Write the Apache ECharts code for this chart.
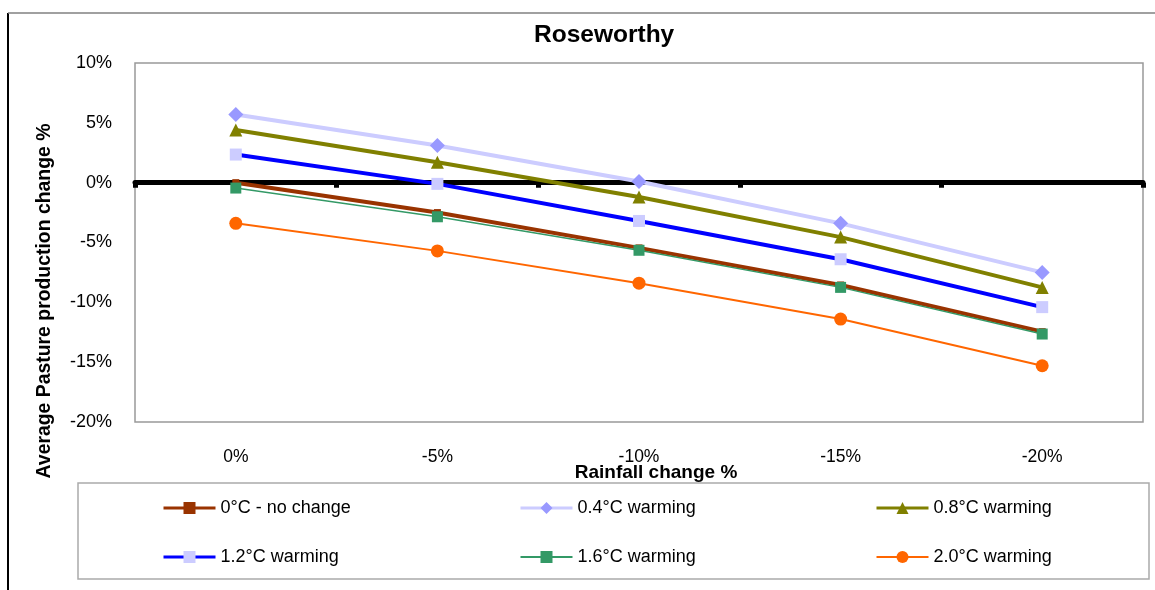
<!DOCTYPE html>
<html>
<head>
<meta charset="utf-8">
<title>Roseworthy</title>
<script src="https://cdn.jsdelivr.net/npm/echarts@6/dist/echarts.min.js"></script>
<style>
  html, body { margin: 0; padding: 0; background: #ffffff; }
  #chart { width: 1155px; height: 590px; }
</style>
</head>
<body>
<div id="chart"></div>
<script>
// Rainfall scenarios (x categories)
const rainfall = ['0%', '-5%', '-10%', '-15%', '-20%'];

// Average pasture production change (%) for each warming scenario
const noChange = [0.0, -2.5, -5.45, -8.55, -12.45];
const warm04 = [5.7, 3.1, 0.1, -3.4, -7.5];
const warm08 = [4.4, 1.7, -1.2, -4.55, -8.75];
const warm12 = [2.35, -0.1, -3.2, -6.4, -10.4];
const warm16 = [-0.45, -2.85, -5.65, -8.75, -12.65];
const warm20 = [-3.4, -5.7, -8.4, -11.4, -15.3];

// Y axis range and step (%)
const yMin = -20;
const yMax = 10;
const yStep = 5;

const seriesNames = [
  '0°C - no change', '0.4°C warming', '0.8°C warming',
  '1.2°C warming', '1.6°C warming', '2.0°C warming'
];

const FONT = 'Liberation Sans, Arial, sans-serif';

const chart = echarts.init(document.getElementById('chart'), null, { renderer: 'canvas' });

function lineSeries(name, data, lineColor, lineWidth, symbol, symbolSize, symbolColor) {
  return {
    name: name,
    type: 'line',
    data: data,
    xAxisIndex: 0,
    yAxisIndex: 0,
    symbol: symbol,
    symbolSize: symbolSize,
    showAllSymbol: true,
    lineStyle: { color: lineColor, width: lineWidth },
    itemStyle: { color: symbolColor, borderWidth: 0 },
    emphasis: { disabled: true },
    animation: false
  };
}

function legendColumn(items, left) {
  return {
    orient: 'vertical',
    left: left,
    top: 499,
    padding: 0,
    itemGap: 31,
    itemWidth: 52,
    itemHeight: 15,
    data: items,
    lineStyle: { width: 3 },
    textStyle: { fontFamily: FONT, fontSize: 18, color: '#000' },
    selectedMode: false
  };
}

const option = {
  backgroundColor: '#ffffff',
  animation: false,
  title: {
    text: 'Roseworthy',
    left: 529,
    top: 18,
    textStyle: { fontFamily: FONT, fontSize: 24.5, fontWeight: 'bold', color: '#000' }
  },
  legend: [
    legendColumn([
      { name: seriesNames[0], itemStyle: { color: '#993300' } },
      { name: seriesNames[3] }
    ], 162),
    legendColumn([
      { name: seriesNames[1] },
      { name: seriesNames[4], lineStyle: { width: 2 } }
    ], 519),
    legendColumn([
      { name: seriesNames[2] },
      { name: seriesNames[5], lineStyle: { width: 2 } }
    ], 875)
  ],
  grid: {
    left: 135,
    top: 63,
    right: 12,
    bottom: 168,
    show: true,
    borderColor: '#999999',
    borderWidth: 1.5,
    backgroundColor: '#ffffff'
  },
  xAxis: [
    {
      type: 'category',
      data: rainfall,
      position: 'bottom',
      boundaryGap: true,
      axisLine: { show: false, onZero: false },
      axisTick: { show: false },
      axisLabel: { margin: 26, fontFamily: FONT, fontSize: 17.5, color: '#000' },
      name: 'Rainfall change %',
      nameLocation: 'middle',
      nameGap: 41,
      nameMoveOverlap: false,
      nameTextStyle: {
        fontFamily: FONT, fontSize: 19, fontWeight: 'bold', color: '#000',
        padding: [0, 0, 0, 34]
      }
    },
    {
      // zero reference line with boundary ticks
      type: 'category',
      data: rainfall,
      position: 'top',
      boundaryGap: true,
      axisLine: { show: true, onZero: true, lineStyle: { color: '#000', width: 5 } },
      axisTick: { show: true, inside: true, length: 5, lineStyle: { color: '#000', width: 5 } },
      axisLabel: { show: false }
    }
  ],
  yAxis: {
    type: 'value',
    min: yMin,
    max: yMax,
    interval: yStep,
    axisLine: { show: false },
    axisTick: { show: false },
    splitLine: { show: false },
    axisLabel: {
      formatter: '{value}%',
      margin: 23,
      fontFamily: FONT,
      fontSize: 18,
      color: '#000'
    }
  },
  graphic: [
    {
      type: 'line',
      shape: { x1: 8, y1: 13, x2: 8, y2: 590 },
      style: { stroke: '#000', lineWidth: 2 },
      silent: true
    },
    {
      type: 'line',
      shape: { x1: 8, y1: 13, x2: 1155, y2: 13 },
      style: { stroke: '#808080', lineWidth: 1.5 },
      silent: true
    },
    {
      type: 'rect',
      shape: { x: 78, y: 483, width: 1071, height: 96 },
      style: { fill: 'none', stroke: '#aaaaaa', lineWidth: 1.5 },
      silent: true,
      z: -1
    },
    {
      type: 'text',
      x: 45,
      y: 301,
      rotation: Math.PI / 2,
      style: {
        text: 'Average Pasture production change %',
        fontFamily: FONT,
        fontSize: 19.4,
        fontWeight: 'bold',
        fill: '#000',
        align: 'center',
        verticalAlign: 'middle'
      },
      silent: true
    }
  ],
  series: [
    lineSeries(seriesNames[0], noChange, '#993300', 4, 'rect', 7, '#993300'),
    lineSeries(seriesNames[1], warm04, '#ccccff', 4, 'diamond', 15, '#9999ff'),
    lineSeries(seriesNames[2], warm08, '#808000', 4, 'triangle', 13, '#808000'),
    lineSeries(seriesNames[3], warm12, '#0000ff', 4, 'rect', 12, '#ccccff'),
    lineSeries(seriesNames[4], warm16, '#339966', 1.5, 'rect', 11, '#339966'),
    lineSeries(seriesNames[5], warm20, '#ff6600', 2, 'circle', 13, '#ff6600')
  ]
};

chart.setOption(option);
</script>
</body>
</html>
